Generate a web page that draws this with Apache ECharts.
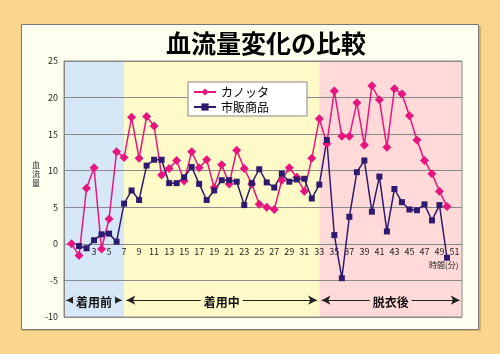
<!DOCTYPE html>
<html>
<head>
<meta charset="utf-8">
<script src="https://cdn.jsdelivr.net/npm/echarts@6/dist/echarts.min.js"></script>
<style>
  html, body { margin: 0; padding: 0; background: #fad58e; }
  #chart { width: 500px; height: 354px; }
</style>
</head>
<body>
<div id="chart"></div>
<script>
// Blood flow readings per minute (index = minute).
const kanotta = [0, -1.6, 7.6, 10.4, -0.7, 3.4, 12.6, 11.8, 17.3, 11.7,
  17.4, 16.1, 9.4, 10.3, 11.4, 8.6, 12.6, 10.4, 11.5, 7.7,
  10.8, 8.2, 12.8, 10.3, 8.2, 5.4, 5.0, 4.7, 8.7, 10.4,
  9.1, 7.2, 11.7, 17.1, 13.7, 20.9, 14.7, 14.7, 19.3, 13.5,
  21.6, 19.7, 13.2, 21.2, 20.5, 17.5, 14.2, 11.4, 9.6, 7.2, 5.1];
const market = ['-', -0.3, -0.6, 0.5, 1.3, 1.4, 0.3, 5.5, 7.3, 6.0,
  10.7, 11.5, 11.5, 8.3, 8.3, 9.1, 10.5, 8.2, 6.0, 7.3,
  8.7, 8.7, 8.5, 5.3, 8.3, 10.2, 8.4, 7.7, 9.6, 8.5,
  8.8, 8.9, 6.2, 8.1, 14.2, 1.2, -4.7, 3.7, 9.8, 11.4,
  4.4, 9.2, 1.7, 7.5, 5.7, 4.7, 4.6, 5.4, 3.2, 5.3, -1.9];
const seriesNames = ['カノッタ', '市販商品'];

// phases: before wearing / wearing / after taking off
const phaseNames = ['着用前', '着用中', '脱衣後'];
const phaseBounds = [-1, 7, 33, 52];
const phaseColors = ['#d6e8f7', '#fffac8', '#ffdad8'];
const arrowLevel = -7.7;

const chart = echarts.init(document.getElementById('chart'), null, { renderer: 'canvas' });

const toPairs = arr => arr.map((v, i) => [i, v]);

const phaseAreas = phaseNames.map((n, k) => [
  { xAxis: phaseBounds[k], itemStyle: { color: phaseColors[k] } },
  { xAxis: phaseBounds[k + 1] }
]);
const phaseArrows = phaseNames.map((n, k) => [
  { coord: [phaseBounds[k] + 0.3, arrowLevel], label: { formatter: n, backgroundColor: phaseColors[k] } },
  { coord: [phaseBounds[k + 1] - 0.3, arrowLevel] }
]);

const font = '"Noto Sans CJK JP", "Noto Sans", sans-serif';

// onZero does not take here, so lift the bottom axis up to the zero line
const gridTop = 61, gridBottom = 37, yMin = -10, yMax = 25;
const zeroOffset = (354 - gridTop - gridBottom) * (0 - yMin) / (yMax - yMin);

chart.setOption({
  animation: false,
  backgroundColor: '#fad58e',
  textStyle: { fontFamily: font },
  title: {
    text: '血流量変化の比較',
    left: 161, top: 26,
    textStyle: { fontSize: 25, fontWeight: 'bold', color: '#000', fontFamily: font }
  },
  graphic: [
    { type: 'rect', z: -100, shape: { x: 23, y: 26, width: 458, height: 305 }, style: { fill: '#d9b06a' } },
    { type: 'rect', z: -99, shape: { x: 21.5, y: 24.5, width: 457, height: 305 }, style: { fill: '#fffff0', stroke: '#777', lineWidth: 1 } },
    { type: 'text', left: 32, top: 160, style: { text: '血\n流\n量', fontSize: 8, lineHeight: 9, fill: '#222', fontFamily: font } },
    { type: 'text', left: 429, top: 261, style: { text: '時間(分)', fontSize: 8, fill: '#222', fontFamily: font } }
  ],
  legend: {
    data: seriesNames,
    orient: 'vertical',
    left: 188, top: 82,
    backgroundColor: '#fff',
    borderColor: '#888', borderWidth: 1, borderRadius: 0,
    padding: [4, 38, 3, 5],
    itemWidth: 22, itemHeight: 9, itemGap: 3,
    textStyle: { fontSize: 12, color: '#000', fontFamily: font }
  },
  grid: { left: 64, right: 38, top: gridTop, bottom: gridBottom, show: true, borderColor: '#888', borderWidth: 1, backgroundColor: 'transparent' },
  xAxis: {
    type: 'value', min: -1, max: 52, interval: 1, z: 1,
    position: 'bottom', offset: -zeroOffset,
    axisLine: { onZero: false, lineStyle: { color: '#888' } },
    axisTick: { show: false },
    splitLine: { show: false },
    axisLabel: {
      show: true, hideOverlap: false, fontSize: 9, color: '#222', margin: 3,
      formatter: v => (v >= 3 && v <= 51 && v % 2 === 1) ? String(v) : ''
    }
  },
  yAxis: {
    type: 'value', min: yMin, max: yMax, interval: 5,
    axisLine: { show: true, onZero: false, lineStyle: { color: '#888' } },
    axisTick: { show: false },
    splitLine: { lineStyle: { color: '#8a8a8a', width: 1 } },
    axisLabel: { fontSize: 9, color: '#222', margin: 6 }
  },
  series: [
    {
      type: 'line', data: [], z: -5, silent: true,
      markArea: { silent: true, z: -5, data: phaseAreas }
    },
    {
      name: seriesNames[0], type: 'line', data: toPairs(kanotta),
      symbol: 'diamond', symbolSize: 9, color: '#e8157f',
      lineStyle: { width: 1.5, color: '#e8157f' },
      itemStyle: { color: '#e8157f' },
      markLine: {
        silent: true, symbol: ['arrow', 'arrow'], symbolSize: [7, 9],
        lineStyle: { color: '#222', width: 1, type: 'solid' },
        label: { position: 'middle', fontSize: 12, fontWeight: 'bold', color: '#111', padding: [0, 3], distance: -8, fontFamily: font },
        data: phaseArrows
      }
    },
    {
      name: seriesNames[1], type: 'line', data: toPairs(market),
      symbol: 'rect', symbolSize: 6, color: '#2e1a6e',
      lineStyle: { width: 1.5, color: '#2e1a6e' },
      itemStyle: { color: '#2e1a6e' }
    }
  ]
});
</script>
</body>
</html>
